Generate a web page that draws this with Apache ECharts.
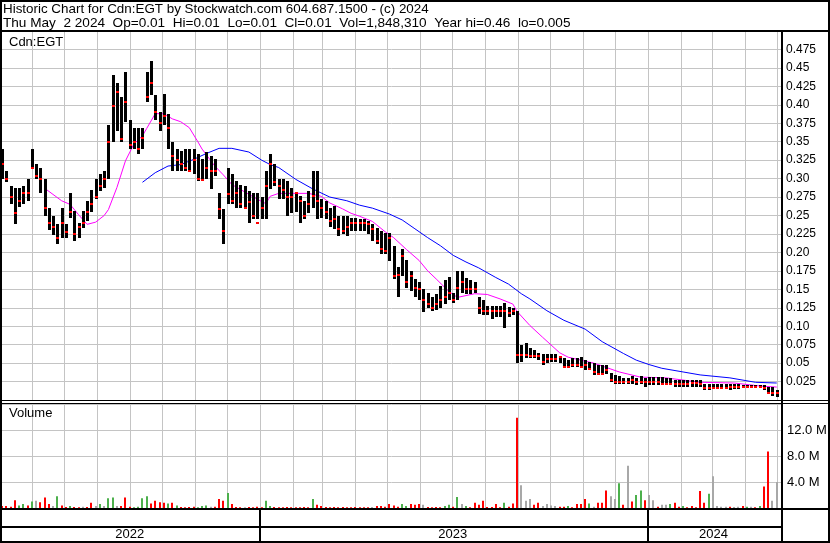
<!DOCTYPE html>
<html><head><meta charset="utf-8">
<script src="https://cdn.jsdelivr.net/npm/echarts@6/dist/echarts.min.js"></script>
<style>html,body{margin:0;padding:0;background:#fff}#c{width:830px;height:543px}</style>
</head><body><div id="c"></div>
<script>
// ---- data ----
const titleLine1 = 'Historic Chart for Cdn:EGT by Stockwatch.com 604.687.1500 - (c) 2024';
const titleLine2 = 'Thu May  2 2024  Op=0.01  Hi=0.01  Lo=0.01  Cl=0.01  Vol=1,848,310  Year hi=0.46  lo=0.005';
const symbolLabel = 'Cdn:EGT';
const volumeLabel = 'Volume';
const firstBar = [2022, 4, 4];   // first bar date (y, m0, d)
const stepDays = 4;              // days between bars
const hi = [0.34,0.31,0.29,0.287,0.287,0.29,0.30,0.34,0.32,0.314,
0.30,0.26,0.25,0.238,0.26,0.238,0.28,0.256,0.24,0.256,
0.27,0.285,0.30,0.306,0.31,0.373,0.44,0.43,0.41,0.445,
0.38,0.368,0.368,0.368,0.445,0.46,0.413,0.39,0.415,0.387,
0.35,0.34,0.337,0.34,0.34,0.34,0.333,0.327,0.336,0.33,
0.327,0.28,0.259,0.314,0.306,0.297,0.292,0.29,0.283,0.28,
0.28,0.275,0.31,0.333,0.32,0.30,0.30,0.297,0.287,0.28,
0.276,0.27,0.283,0.31,0.31,0.273,0.27,0.26,0.263,0.25,
0.25,0.25,0.247,0.247,0.245,0.245,0.243,0.238,0.233,0.229,
0.226,0.226,0.209,0.18,0.205,0.19,0.175,0.164,0.16,0.151,
0.145,0.14,0.143,0.155,0.162,0.166,0.145,0.175,0.175,0.165,
0.162,0.16,0.139,0.135,0.128,0.128,0.127,0.127,0.132,0.126,
0.125,0.12,0.074,0.077,0.07,0.068,0.064,0.063,0.062,0.063,
0.063,0.06,0.057,0.054,0.057,0.057,0.058,0.054,0.052,0.05,
0.047,0.047,0.048,0.036,0.034,0.032,0.03,0.03,0.032,0.03,
0.032,0.03,0.031,0.031,0.031,0.031,0.03,0.03,0.027,0.027,
0.027,0.027,0.027,0.027,0.027,0.022,0.022,0.022,0.022,0.022,
0.022,0.022,0.022,0.022,0.02,0.02,0.02,0.02,0.02,0.02,
0.018,0.018,0.014];
const lo = [0.30,0.295,0.265,0.238,0.262,0.265,0.27,0.314,0.30,0.28,
0.25,0.23,0.223,0.211,0.22,0.22,0.247,0.215,0.22,0.233,
0.243,0.255,0.273,0.283,0.287,0.30,0.35,0.364,0.35,0.377,
0.34,0.34,0.333,0.34,0.404,0.413,0.38,0.364,0.373,0.34,
0.31,0.31,0.31,0.31,0.31,0.306,0.297,0.297,0.30,0.286,
0.303,0.245,0.211,0.265,0.265,0.26,0.26,0.26,0.24,0.245,
0.245,0.245,0.245,0.286,0.29,0.273,0.273,0.25,0.253,0.255,
0.24,0.245,0.253,0.26,0.245,0.247,0.245,0.235,0.232,0.222,
0.225,0.222,0.229,0.229,0.229,0.229,0.225,0.215,0.211,0.198,
0.198,0.189,0.164,0.139,0.168,0.152,0.148,0.139,0.135,0.119,
0.125,0.12,0.122,0.125,0.13,0.135,0.132,0.135,0.145,0.144,
0.144,0.145,0.117,0.115,0.115,0.11,0.113,0.113,0.098,0.113,
0.115,0.05,0.051,0.057,0.057,0.057,0.054,0.047,0.05,0.052,
0.052,0.05,0.043,0.043,0.045,0.045,0.045,0.04,0.04,0.034,
0.034,0.034,0.035,0.024,0.022,0.022,0.022,0.022,0.022,0.02,
0.022,0.018,0.02,0.02,0.02,0.02,0.02,0.02,0.018,0.018,
0.018,0.018,0.018,0.018,0.018,0.014,0.014,0.015,0.015,0.015,
0.015,0.014,0.015,0.015,0.016,0.016,0.016,0.016,0.016,0.014,
0.008,0.006,0.004];
const cl = [0.32,0.30,0.275,0.253,0.27,0.28,0.28,0.315,0.303,0.30,
0.26,0.24,0.235,0.22,0.24,0.228,0.255,0.225,0.235,0.24,
0.255,0.265,0.275,0.29,0.30,0.35,0.398,0.418,0.353,0.404,
0.345,0.35,0.34,0.355,0.41,0.43,0.39,0.375,0.385,0.368,
0.33,0.325,0.32,0.315,0.31,0.325,0.30,0.298,0.315,0.31,
0.31,0.259,0.229,0.279,0.27,0.28,0.265,0.26,0.268,0.25,
0.24,0.26,0.29,0.32,0.295,0.29,0.285,0.275,0.275,0.28,
0.27,0.25,0.265,0.276,0.27,0.26,0.255,0.243,0.245,0.232,
0.229,0.235,0.24,0.24,0.24,0.24,0.238,0.232,0.215,0.205,
0.202,0.22,0.168,0.17,0.195,0.16,0.168,0.152,0.15,0.135,
0.13,0.125,0.13,0.135,0.14,0.145,0.136,0.152,0.16,0.15,
0.15,0.15,0.124,0.12,0.12,0.12,0.12,0.12,0.12,0.118,
0.12,0.061,0.061,0.061,0.06,0.06,0.06,0.051,0.056,0.055,
0.055,0.058,0.045,0.045,0.047,0.047,0.045,0.047,0.042,0.038,
0.035,0.035,0.041,0.027,0.025,0.025,0.025,0.025,0.027,0.024,
0.025,0.024,0.024,0.024,0.024,0.022,0.022,0.022,0.022,0.022,
0.022,0.022,0.023,0.023,0.022,0.016,0.016,0.016,0.016,0.016,
0.016,0.017,0.017,0.017,0.018,0.018,0.018,0.018,0.018,0.016,
0.01,0.01,0.01];
// volume in millions of shares
const volM = [0.3,0.3,0.2,1.2,0.4,0.6,0.4,1.0,1.1,0.9,
1.6,0.6,0.3,1.8,0.4,0.15,0.3,0.15,0.1,0.2,
0.15,0.8,0.3,0.6,0.3,1.5,1.6,0.3,0.3,1.6,
0.2,0.1,0.2,1.5,1.8,0.7,1.1,0.9,0.8,0.7,
0.8,0.4,0.15,0.1,0.15,0.2,0.1,0.3,0.4,0.2,
0.2,1.4,1.1,2.3,0.6,0.15,0.1,0.1,0.15,0.1,
0.2,0.1,1.1,0.3,0.15,0.1,0.1,0.15,0.1,0.1,
0.1,0.15,0.1,1.4,0.5,0.3,0.15,0.1,0.15,0.1,
0.15,0.1,0.1,0.15,0.1,0.1,0.1,0.15,0.3,0.3,
0.2,0.6,0.4,0.2,0.6,0.3,0.6,0.5,0.6,0.5,
0.15,0.1,0.15,0.1,0.3,0.5,0.2,1.7,0.6,0.3,
0.1,0.8,0.5,1.1,0.15,0.15,0.6,0.1,0.8,0.2,
0.7,13.9,3.5,1.1,1.4,0.5,0.8,0.3,0.6,0.4,
0.3,0.2,0.2,0.3,0.1,0.6,0.6,1.4,0.7,0.2,
0.8,0.8,2.7,1.8,1.4,3.8,0.5,6.5,1.0,2.0,
2.7,1.2,2.0,1.2,0.2,0.5,0.5,0.6,0.8,0.2,
0.3,0.1,0.3,0.1,2.6,0.8,2.2,4.9,0.3,0.2,
0.2,0.2,0.15,0.2,0.3,0.2,0.2,0.1,0.3,3.3,
8.7,1.1,4.0];
// r = down (red), g = up (green), n = unchanged (grey)
const volDir = ('rrrrggrgnr'+'rrngrrgrrn'+'rrngnggnrr'+'rggggrrrrg'+'rgrrrrgggn'+
'rrrgrrrnrr'+'rrggrrrrrr'+'rrrgrrrrrr'+'rrrrrrrnrr'+'rrrrggrrrn'+
'rrrrggrgng'+'rrrrrrrrgr'+'rrnnnrrnnn'+'nrrgrrrrgn'+'rrrnngrnrg'+
'grnnrnngrr'+'grrrrrgnnn'+'nrnnrgnrgr'+'rnn').split('');
// moving averages: bar index -> value
const maShortIdx = [10,14,16,18,20,22,24,25,27,29,31,33,34,36,38,40,42,44,46,47,50,52,54,57,60,62,63,65,68,72,75,77,80,82,84,87,90,92,95,98,100,102,105,107,111,114,117,120,121,124,127,131,133,136,139,142,145,150,156,164,172,178,182];
const maShortVal = [0.287,0.270,0.265,0.251,0.238,0.241,0.250,0.258,0.288,0.324,0.347,0.358,0.368,0.388,0.388,0.381,0.377,0.369,0.350,0.340,0.317,0.305,0.292,0.282,0.272,0.266,0.276,0.280,0.280,0.280,0.276,0.267,0.259,0.253,0.249,0.242,0.228,0.220,0.204,0.189,0.175,0.164,0.147,0.139,0.144,0.143,0.137,0.130,0.120,0.101,0.085,0.064,0.058,0.054,0.050,0.044,0.038,0.031,0.030,0.024,0.023,0.019,0.0175];
const maLongIdx = [33,36,39,42,45,48,51,54,58,61,63,65,69,73,77,81,84,87,91,94,97,100,103,106,109,112,116,119,122,124,128,132,137,141,146,149,152,155,160,164,171,177,182];
const maLongVal = [0.295,0.308,0.317,0.319,0.326,0.334,0.341,0.341,0.336,0.325,0.319,0.315,0.299,0.286,0.275,0.270,0.264,0.260,0.252,0.244,0.232,0.220,0.209,0.196,0.187,0.179,0.166,0.157,0.144,0.137,0.121,0.108,0.096,0.079,0.063,0.054,0.048,0.043,0.038,0.034,0.030,0.024,0.023];
const yearLabels = ['2022','2023','2024'];
const axisStart = [2022, 4, 4];
const axisEnd = [2024, 4, 5];

// ---- build ----
const FONT = '"Liberation Sans", Arial, sans-serif';
const T0 = new Date(axisStart[0], axisStart[1], axisStart[2]).getTime();
const T1 = new Date(axisEnd[0], axisEnd[1], axisEnd[2]).getTime();
function barDate(i){ return new Date(firstBar[0], firstBar[1], firstBar[2] + stepDays*i).getTime(); }
const ohlc = hi.map((h,i)=>[barDate(i), h, lo[i], cl[i]]);
const volData = volM.map((v,i)=>[barDate(i), v*1e6]);
const maShort = maShortIdx.map((k,j)=>[barDate(k), maShortVal[j]]);
const maLong = maLongIdx.map((k,j)=>[barDate(k), maLongVal[j]]);
const months = [];
for (let y=2022; y<=2024; y++) for (let m=0; m<12; m++) {
  const t = new Date(y,m,1).getTime();
  if (t > T0 && t < T1) months.push([t]);
}
const years = yearLabels.map(s=>[new Date(+s,0,1).getTime(), new Date(+s+1,0,1).getTime()]);
const dirColor = {r:'#ff0000', g:'#4cb04c', n:'#a8a8a8'};

function priceFmt(v){
  if (v <= 0 || v >= 0.5 - 1e-9) return '';
  const r = Math.round(v*1000)/1000;
  return (Math.abs(r*100 - Math.round(r*100)) < 1e-6) ? r.toFixed(2) : r.toFixed(3);
}
function volFmt(v){
  if (v <= 0 || v >= 16e6) return '';
  return (v/1e6).toFixed(1) + ' M';
}
function gridLines(params, api){
  const cs = params.coordSys;
  const x = Math.round(api.coord([api.value(0), 0])[0]) + 0.5;
  return {type:'line', shape:{x1:x, y1:cs.y, x2:x, y2:cs.y+cs.height}, style:{stroke:'#c4c4c4', lineWidth:1}};
}
const xBase = {type:'time', min:T0, max:T1, show:false, splitLine:{show:false}};
const gL = 2, gW = 779;

const chart = echarts.init(document.getElementById('c'), null, {renderer:'canvas'});
chart.setOption({
  animation:false,
  backgroundColor:'#fff',
  grid:[
    {left:gL, width:gW, top:31, height:369},
    {left:gL, width:gW, top:404, height:104},
    {left:gL, width:gW, top:510, height:33}
  ],
  xAxis:[Object.assign({gridIndex:0}, xBase), Object.assign({gridIndex:1}, xBase), Object.assign({gridIndex:2}, xBase)],
  yAxis:[
    {gridIndex:0, type:'value', position:'right', min:0, max:0.5, interval:0.025,
     axisLine:{show:false}, axisTick:{show:false},
     splitLine:{show:true, lineStyle:{color:'#c4c4c4', width:1}},
     axisLabel:{show:true, margin:5, color:'#000', fontSize:12, fontFamily:FONT, formatter:priceFmt}},
    {gridIndex:1, type:'value', position:'right', min:0, max:16e6, interval:4e6,
     axisLine:{show:false}, axisTick:{show:false},
     splitLine:{show:true, lineStyle:{color:'#c4c4c4', width:1}},
     axisLabel:{show:true, margin:6, color:'#000', fontSize:13, fontFamily:FONT, formatter:volFmt}},
    {gridIndex:2, type:'value', min:0, max:1, show:false}
  ],
  series:[
    {type:'custom', xAxisIndex:0, yAxisIndex:0, z:1, silent:true, data:months, renderItem:gridLines},
    {type:'custom', xAxisIndex:1, yAxisIndex:1, z:1, silent:true, data:months, renderItem:gridLines},
    {type:'line', xAxisIndex:0, yAxisIndex:0, z:3, data:maLong, showSymbol:false, symbol:'none',
     lineStyle:{color:'#0000ff', width:1}, silent:true},
    {type:'line', xAxisIndex:0, yAxisIndex:0, z:3, data:maShort, showSymbol:false, symbol:'none',
     lineStyle:{color:'#ff00ff', width:1}, silent:true},
    {type:'custom', xAxisIndex:0, yAxisIndex:0, z:4, silent:true, data:ohlc,
     encode:{x:0, y:[1,2,3]},
     renderItem:function(params, api){
       const t = api.value(0);
       const pH = api.coord([t, api.value(1)]);
       const pL = api.coord([t, api.value(2)]);
       const pC = api.coord([t, api.value(3)]);
       const x = Math.round(pH[0]);
       const yh = Math.round(pH[1]), yl = Math.round(pL[1]);
       return {type:'group', children:[
         {type:'rect', shape:{x:x-1, y:yh, width:3, height:Math.max(2, yl-yh)}, style:{fill:'#000'}},
         {type:'rect', z2:5, shape:{x:x-1, y:Math.round(pC[1])-1, width:3, height:2}, style:{fill:'#ff0000'}}
       ]};
     }},
    {type:'custom', xAxisIndex:1, yAxisIndex:1, z:4, silent:true, data:volData,
     encode:{x:0, y:1},
     renderItem:function(params, api){
       const t = api.value(0);
       const p0 = api.coord([t, 0]), p1 = api.coord([t, api.value(1)]);
       const x = Math.round(p0[0]);
       return {type:'rect', shape:{x:x-1, y:p1[1], width:2, height:p0[1]-p1[1]},
               style:{fill:dirColor[volDir[params.dataIndex]]}};
     }},
    {type:'custom', xAxisIndex:2, yAxisIndex:2, z:4, silent:true, data:years,
     renderItem:function(params, api){
       const cs = params.coordSys;
       const a = Math.max(api.value(0), T0), b = Math.min(api.value(1), T1);
       const xa = api.coord([a, 0])[0], xb = api.coord([b, 0])[0];
       const ch = [{type:'text', x:(xa+xb)/2 - 1, y:cs.y+24,
         style:{text:yearLabels[params.dataIndex], fill:'#000', fontSize:13, fontFamily:FONT, align:'center', verticalAlign:'middle'}}];
       if (api.value(1) < T1) {
         const xl = Math.round(xb);
         ch.push({type:'rect', shape:{x:xl-1, y:cs.y-1, width:2, height:cs.height}, style:{fill:'#000'}});
       }
       return {type:'group', children:ch};
     }}
  ],
  graphic:[
    {type:'text', x:3, y:9, z:10, style:{text:titleLine1, fill:'#000', fontSize:13.4, fontFamily:FONT, verticalAlign:'middle'}},
    {type:'text', x:3, y:23, z:10, style:{text:titleLine2, fill:'#000', fontSize:13.6, fontFamily:FONT, verticalAlign:'middle'}},
    {type:'text', x:9, y:42, z:10, style:{text:symbolLabel, fill:'#000', fontSize:13, fontFamily:FONT, verticalAlign:'middle'}},
    {type:'text', x:9, y:413, z:10, style:{text:volumeLabel, fill:'#000', fontSize:13, fontFamily:FONT, verticalAlign:'middle'}},
    {type:'rect', z:20, shape:{x:1, y:1, width:828, height:541}, style:{fill:null, stroke:'#000', lineWidth:2}},
    {type:'rect', z:20, shape:{x:0, y:30, width:830, height:2}, style:{fill:'#000'}},
    {type:'rect', z:20, shape:{x:781, y:30, width:2, height:513}, style:{fill:'#000'}},
    {type:'rect', z:20, shape:{x:0, y:400, width:830, height:1}, style:{fill:'#000'}},
    {type:'rect', z:20, shape:{x:0, y:403, width:830, height:1}, style:{fill:'#000'}},
    {type:'rect', z:20, shape:{x:0, y:508, width:830, height:2}, style:{fill:'#000'}},
    {type:'rect', z:20, shape:{x:0, y:526, width:782, height:2}, style:{fill:'#000'}}
  ]
});
</script></body></html>
